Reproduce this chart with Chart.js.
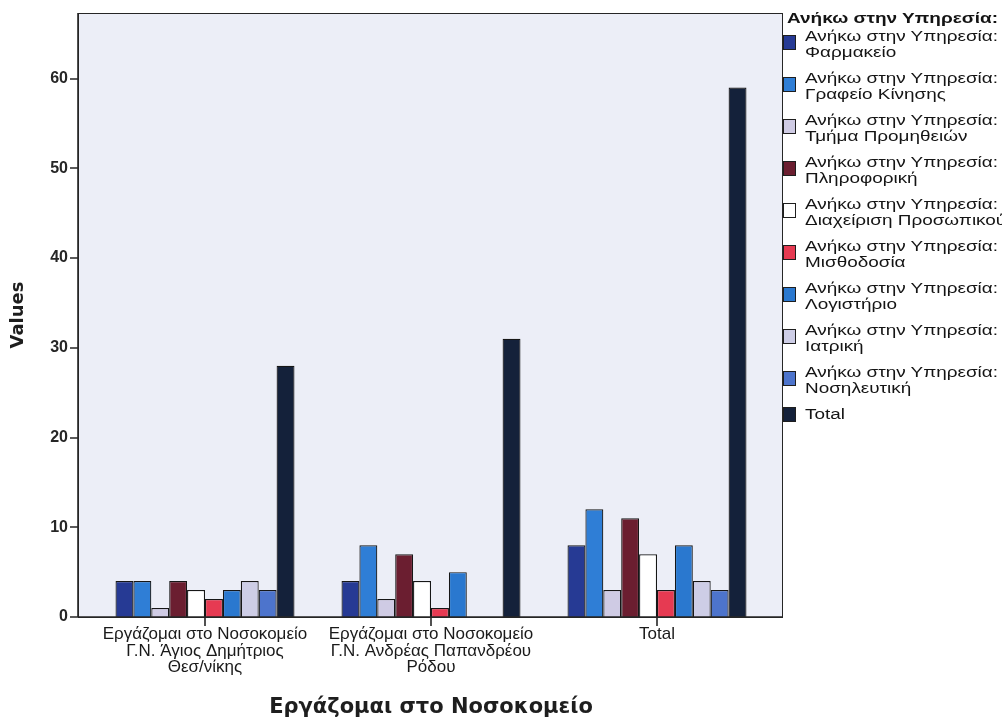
<!DOCTYPE html>
<html><head><meta charset="utf-8">
<script src="https://cdn.jsdelivr.net/npm/chart.js@4.4.1/dist/chart.umd.min.js"></script>
<style>
html,body{margin:0;padding:0;background:#ffffff;}
#wrap{position:relative;width:1002px;height:722px;overflow:hidden;}
#c{position:absolute;left:0;top:0;}
#legend{position:absolute;left:0;top:0;width:1002px;height:722px;pointer-events:none;font-family:"Liberation Sans",Arial,sans-serif;color:#141414;}
.lt{position:absolute;white-space:nowrap;transform-origin:0 50%;line-height:1;font-size:14px;}
.lt.b{font-weight:bold;}
.box{position:absolute;border:1px solid #1e1e1e;box-sizing:border-box;}
</style></head>
<body><div id="wrap"><canvas id="c" width="1002" height="722"></canvas><div id="legend"></div></div>
<script>
// ---- data ----
const categories = [
  ["Εργάζομαι στο Νοσοκομείο", "Γ.Ν. Άγιος Δημήτριος", "Θεσ/νίκης"],
  ["Εργάζομαι στο Νοσοκομείο", "Γ.Ν. Ανδρέας Παπανδρέου", "Ρόδου"],
  "Total"
];
const legendTitle = "Ανήκω στην Υπηρεσία:";
const seriesPrefix = "Ανήκω στην Υπηρεσία:";
const seriesNames = ["Φαρμακείο", "Γραφείο Κίνησης", "Τμήμα Προμηθειών", "Πληροφορική",
  "Διαχείριση Προσωπικού", "Μισθοδοσία", "Λογιστήριο", "Ιατρική", "Νοσηλευτική", "Total"];
const farmakeio   = [4, 4, 8];
const grafeio     = [4, 8, 12];
const promitheies = [1, 2, 3];
const pliroforiki = [4, 7, 11];
const diaxeirisi  = [3, 4, 7];
const misthodosia = [2, 1, 3];
const logistirio  = [3, 5, 8];
const iatriki     = [4, 0, 4];
const nosileftiki = [3, 0, 3];
const total       = [28, 31, 59];
const yTicks = [0, 10, 20, 30, 40, 50, 60];
const yAxisTitle = "Values";
const xAxisTitle = "Εργάζομαι στο Νοσοκομείο";

const seriesValues = [farmakeio, grafeio, promitheies, pliroforiki, diaxeirisi,
  misthodosia, logistirio, iatriki, nosileftiki, total];
const colors = ["#263a94", "#2f7ed6", "#cfcbe4", "#6b1e30", "#ffffff",
  "#e63a52", "#2a78cf", "#cdcde6", "#4d74cc", "#14213a"];

// ---- frame / background plugin ----
const frame = { l: 78, t: 13, r: 782, b: 617 };
const framePlugin = {
  id: 'frame',
  beforeDatasetsDraw(chart) {
    const c = chart.ctx;
    c.save();
    c.fillStyle = '#eceef7';
    c.fillRect(frame.l, frame.t, frame.r - frame.l, frame.b - frame.t);
    c.restore();
  },
  afterDraw(chart) {
    const c = chart.ctx;
    c.save();
    c.strokeStyle = '#262626';
    c.lineWidth = 1;
    c.strokeRect(frame.l + 0.5, frame.t + 0.5, frame.r - frame.l, frame.b - frame.t);
    c.lineWidth = 1.6;
    c.beginPath();
    c.moveTo(frame.l, frame.t); c.lineTo(frame.l, frame.b);
    c.moveTo(frame.l, frame.b); c.lineTo(frame.r, frame.b);
    const ys = chart.scales.y;
    yTicks.forEach(v => {
      const y = Math.round(ys.getPixelForValue(v));
      c.moveTo(70, y); c.lineTo(frame.l, y);
    });
    const xs = chart.scales.x;
    categories.forEach((_, i) => {
      const x = Math.round(xs.getPixelForValue(i));
      c.moveTo(x, frame.b); c.lineTo(x, frame.b + 9);
    });
    c.stroke();
    c.restore();
  }
};

const ctx = document.getElementById('c').getContext('2d');
new Chart(ctx, {
  type: 'bar',
  data: {
    labels: categories,
    datasets: seriesValues.map((vals, i) => ({
      label: seriesNames[i],
      data: vals,
      backgroundColor: colors[i],
      borderColor: '#161616',
      borderWidth: 1.2,
      borderSkipped: 'bottom'
    }))
  },
  options: {
    responsive: false,
    animation: false,
    devicePixelRatio: 1,
    layout: { autoPadding: false, padding: { top: 13, right: 232, left: 0, bottom: 0 } },
    plugins: { legend: { display: false }, tooltip: { enabled: false } },
    datasets: { bar: { categoryPercentage: 0.792, barPercentage: 1 } },
    scales: {
      x: {
        grid: { display: false, drawTicks: false },
        border: { display: false },
        ticks: {
          font: { family: 'Liberation Sans', size: 17, lineHeight: 0.98 },
          color: '#1a1a1a', padding: 9, maxRotation: 0, autoSkip: false
        },
        title: {
          display: true, text: xAxisTitle, color: '#1e1e1e',
          font: { family: 'DejaVu Sans', size: 21, weight: 'bold' },
          padding: { top: 0, bottom: 2 }
        },
        afterFit(s) { s.height = 105; }
      },
      y: {
        min: 0, max: 67.3, bounds: 'data',
        grid: { display: false, drawTicks: true, tickLength: 22 },
        border: { display: false },
        ticks: {
          stepSize: 10, padding: 2, color: '#262626',
          font: { family: 'Liberation Sans', size: 16, weight: 'bold' }
        },
        afterBuildTicks(s) { s.ticks = yTicks.map(v => ({ value: v })); },
        title: {
          display: true, text: yAxisTitle, color: '#1e1e1e',
          font: { family: 'DejaVu Sans', size: 18, weight: 'bold' },
          padding: { top: 8, bottom: 0 }
        },
        afterFit(s) { s.width = 92; }
      }
    }
  },
  plugins: [framePlugin]
});

// ---- HTML legend ----
const lg = document.getElementById('legend');
function addText(txt, x, yc, bold) {
  const s = document.createElement('span');
  s.className = 'lt' + (bold ? ' b' : '');
  s.textContent = txt;
  s.style.left = x + 'px';
  lg.appendChild(s);
  const h = s.getBoundingClientRect().height;
  s.style.top = (yc - h / 2) + 'px';
  return s;
}
const titleSpan = addText(legendTitle, 787, 18, true);
const tW = titleSpan.getBoundingClientRect().width;
titleSpan.style.transform = 'scaleX(' + (211 / tW) + ')';
let itemScale = null;
seriesNames.forEach((name, i) => {
  const y1 = 36 + 42 * i;
  const b = document.createElement('div');
  b.className = 'box';
  b.style.left = '783px'; b.style.width = '13px';
  b.style.background = colors[i];
  const isTotal = name === 'Total';
  b.style.top = (isTotal ? y1 - 7 : y1 - 1) + 'px';
  b.style.height = '15px';
  lg.appendChild(b);
  const lines = isTotal ? [name] : [seriesPrefix, name];
  lines.forEach((t, j) => {
    const sp = addText(t, 805, y1 + 16 * j, false);
    if (itemScale === null) itemScale = 193 / sp.getBoundingClientRect().width;
    sp.style.transform = 'scaleX(' + itemScale + ')';
  });
});
</script>
</body></html>
